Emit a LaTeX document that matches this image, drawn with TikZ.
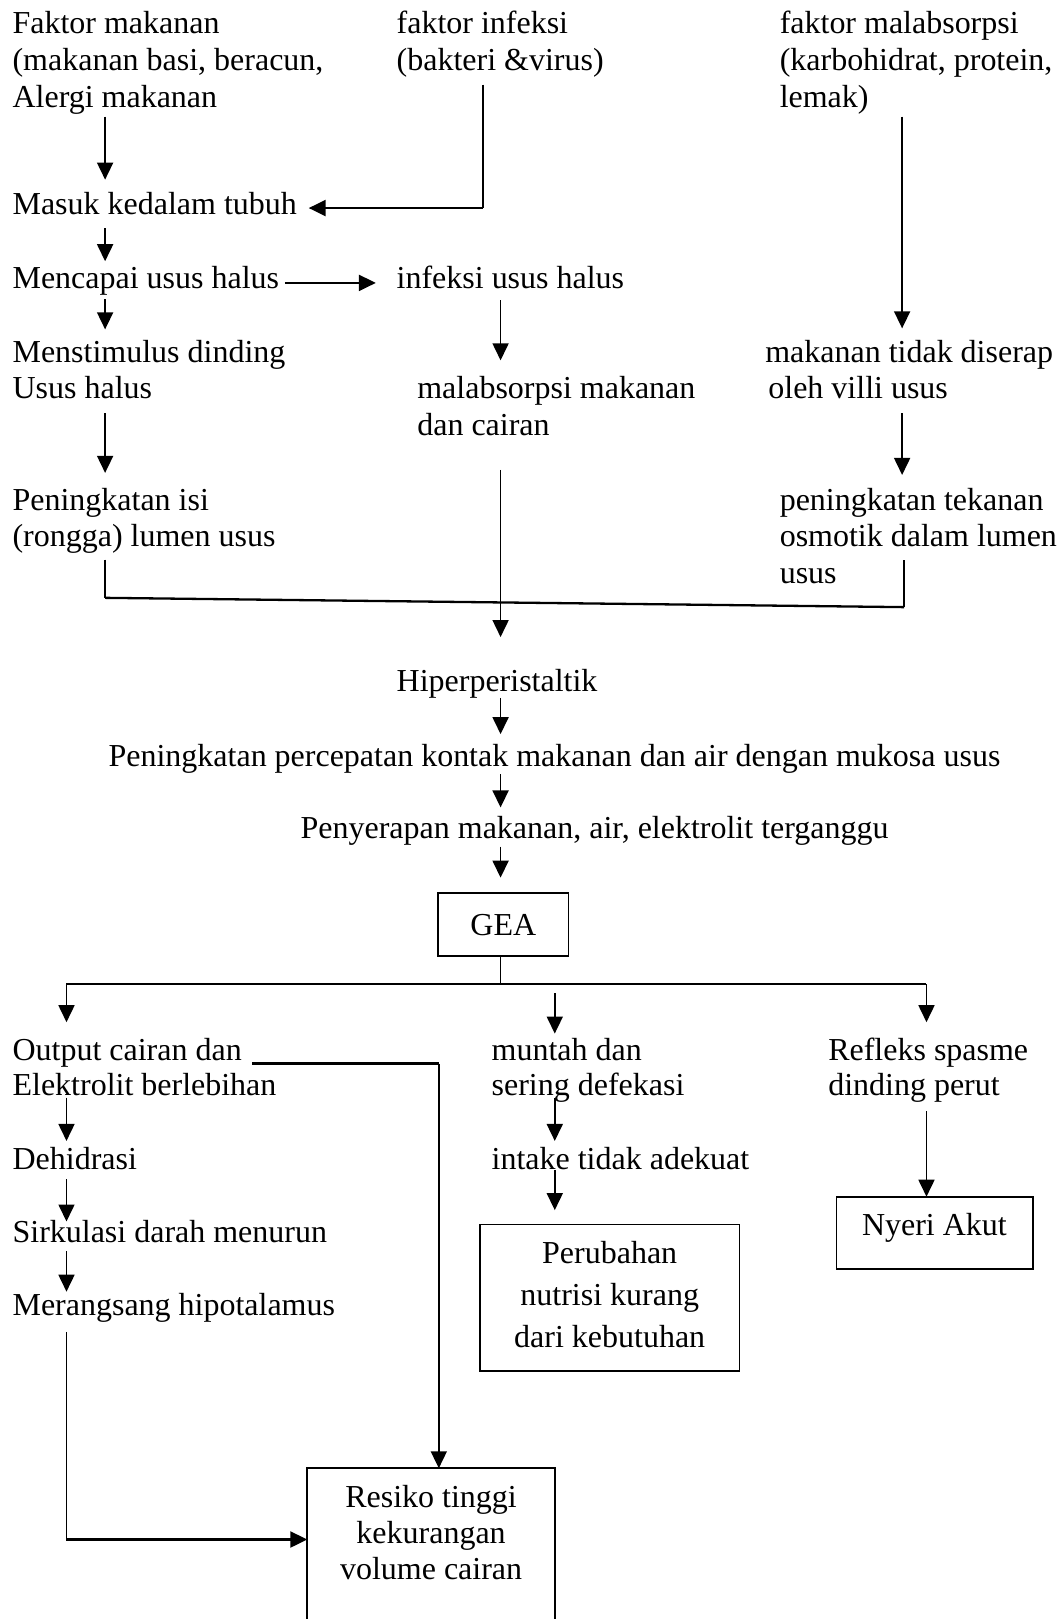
\documentclass[tikz,border=0pt]{standalone}
\usepackage{fontspec}
\setmainfont{Liberation Serif}
\usetikzlibrary{arrows.meta}
\newcommand{\fs}{\fontsize{32pt}{37pt}\selectfont}
\begin{document}
\begin{tikzpicture}[x=1.033pt,y=-1.033pt,
  txt/.style={anchor=base west, inner sep=0pt, font=\fs},
  ctxt/.style={anchor=base, inner sep=0pt, font=\fs},
  ln/.style={line width=1.7pt},
  thk/.style={line width=2.3pt},
  arr/.style={-{Triangle[length=17pt,width=16pt]}, line width=1.7pt},
  harr/.style={-{Triangle[length=17pt,width=16pt]}, line width=2.3pt},
  boxs/.style={draw, line width=1.6pt, inner sep=0pt, outer sep=0pt, rectangle}]
\clip (0,0) rectangle (1030,1568);
\fill[white] (0,0) rectangle (1030,1568);

% ---------- texts, top part ----------
\node[txt] (a1) at (12,32) {Faktor makanan};
\node[txt] (a2) at (12,68) {(makanan basi, beracun,};
\node[txt] (a3) at (12,104) {Alergi makanan};
\node[txt] (b1) at (384,32) {faktor infeksi};
\node[txt] (b2) at (384,68) {(bakteri \&virus)};
\node[txt] (c1) at (755,32) {faktor malabsorpsi};
\node[txt] (c2) at (755,68) {(karbohidrat, protein,};
\node[txt] (c3) at (755,104) {lemak)};
\node[txt] (masuk) at (12,208) {Masuk kedalam tubuh};
\node[txt] (mencapai) at (12,279) {Mencapai usus halus};
\node[txt] (infus) at (384,279) {infeksi usus halus};
\node[txt] (mst1) at (12,351) {Menstimulus dinding};
\node[txt] (mst2) at (12,386) {Usus halus};
\node[txt] (mal1) at (404,386) {malabsorpsi makanan};
\node[txt] (mal2) at (404,422) {dan cairan};
\node[txt] (mtd1) at (741,351) {makanan tidak diserap};
\node[txt] (mtd2) at (744,386) {oleh villi usus};
\node[txt] (pi1) at (12,494) {Peningkatan isi};
\node[txt] (pi2) at (12,529) {(rongga) lumen usus};
\node[txt] (pt1) at (755,494) {peningkatan tekanan};
\node[txt] (pt2) at (755,529) {osmotik dalam lumen};
\node[txt] (pt3) at (755,565) {usus};
\node[txt] (hiper) at (384,670) {Hiperperistaltik};
\node[txt] (pkm) at (105,742) {Peningkatan percepatan kontak makanan dan air dengan mukosa usus};
\node[txt] (peny) at (291,812) {Penyerapan makanan, air, elektrolit terganggu};

% ---------- boxes ----------
\node[boxs, minimum width=130.3pt, minimum height=63pt, font=\fs] (gea) at (487.45,895.5) {GEA};
\node[boxs, minimum width=259.3pt, minimum height=146.7pt] (nutrisi) at (590.5,1257) {};
\node[boxs, minimum width=196.8pt, minimum height=72.3pt] (nyeri) at (905.25,1194) {};
\node[boxs, minimum width=247.6pt, minimum height=206.6pt] (resiko) at (417.45,1522) {};

% ---------- texts, bottom part ----------
\node[txt] (out1) at (12,1027) {Output cairan dan};
\node[txt] (out2) at (12,1061) {Elektrolit berlebihan};
\node[txt] (dehi) at (12,1133) {Dehidrasi};
\node[txt] (sirk) at (12,1203) {Sirkulasi darah menurun};
\node[txt] (mera) at (12,1274) {Merangsang hipotalamus};
\node[txt] (mun1) at (476,1027) {muntah dan};
\node[txt] (mun2) at (476,1061) {sering defekasi};
\node[txt] (intk) at (476,1133) {intake tidak adekuat};
\node[txt] (ref1) at (802,1027) {Refleks spasme};
\node[txt] (ref2) at (802,1061) {dinding perut};
\node[ctxt] (nu1) at (590.5,1223.4) {Perubahan};
\node[ctxt] (nu2) at (590.5,1264.5) {nutrisi kurang};
\node[ctxt] (nu3) at (590.5,1305.5) {dari kebutuhan};
\node[ctxt] (ny1) at (905,1197) {Nyeri Akut};
\node[ctxt] (re1) at (417.5,1460) {Resiko tinggi};
\node[ctxt] (re2) at (417.5,1495) {kekurangan};
\node[ctxt] (re3) at (417.5,1530) {volume cairan};

% ---------- connector points ----------
\coordinate (p1) at (101.8,113);  \coordinate (p2) at (101.8,174);
\coordinate (q1) at (467.7,82);   \coordinate (q2) at (467.7,201.5); \coordinate (q3) at (299,201.5);
\coordinate (p3) at (101.8,221);  \coordinate (p4) at (101.8,253);
\coordinate (h1) at (276,274);    \coordinate (h2) at (364,274);
\coordinate (p5) at (101.8,290);  \coordinate (p6) at (101.8,319);
\coordinate (m1) at (484.8,291);  \coordinate (m2) at (484.8,349);
\coordinate (r1) at (873.7,113);  \coordinate (r2) at (873.7,318);
\coordinate (p7) at (101.8,400);  \coordinate (p8) at (101.8,458);
\coordinate (r3) at (873.7,400);  \coordinate (r4) at (873.7,460);
\coordinate (m3) at (484.8,455);  \coordinate (m4) at (484.8,617);
\coordinate (j1) at (101.8,542);  \coordinate (j2) at (101.8,579);
\coordinate (j3) at (875.7,588);  \coordinate (j4) at (875.7,542);
\coordinate (m5) at (484.8,676);  \coordinate (m6) at (484.8,711);
\coordinate (m7) at (484.8,750);  \coordinate (m8) at (484.8,782);
\coordinate (m9) at (484.8,820);  \coordinate (m10) at (484.8,850);
\coordinate (g1) at (484.8,926);  \coordinate (g2) at (484.8,953);
\coordinate (bl) at (64.4,953);   \coordinate (br) at (897.3,953);
\coordinate (bl2) at (64.4,990);  \coordinate (br2) at (897.3,990);
\coordinate (mid1) at (537.3,962); \coordinate (mid2) at (537.3,1001);
\coordinate (o1) at (244.4,1030); \coordinate (o2) at (425,1030);
\coordinate (d1) at (64.4,1063);  \coordinate (d2) at (64.4,1105);
\coordinate (d3) at (64.4,1142);  \coordinate (d4) at (64.4,1183);
\coordinate (d5) at (64.4,1212);  \coordinate (d6) at (64.4,1251);
\coordinate (k1) at (64.4,1290);  \coordinate (k2) at (64.4,1491);
\coordinate (n1) at (537.3,1063); \coordinate (n2) at (537.3,1105);
\coordinate (n3) at (537.3,1133); \coordinate (n4) at (537.3,1172);
\coordinate (s1) at (897.3,1076);

% ---------- connectors ----------
\draw[arr] (p1) -- (p2);
\draw[ln] (q1) -- (q2);
\draw[harr] (q2) -- (q3);
\draw[arr] (p3) -- (p4);
\draw[harr] (h1) -- (h2);
\draw[arr] (p5) -- (p6);
\draw[arr] (m1) -- (m2);
\draw[arr] (r1) -- (r2);
\draw[arr] (p7) -- (p8);
\draw[arr] (r3) -- (r4);
\draw[arr] (m3) -- (m4);
\draw[ln] (j1) -- (j2);
\draw[thk] (j2) -- (j3);
\draw[ln] (j3) -- (j4);
\draw[arr] (m5) -- (m6);
\draw[arr] (m7) -- (m8);
\draw[arr] (m9) -- (m10);
\draw[ln] (g1) -- (g2);
\draw[thk] (bl) -- (br);
\draw[arr] (bl) -- (bl2);
\draw[arr] (br) -- (br2);
\draw[arr] (mid1) -- (mid2);
\draw[thk] (o1) -- (o2);
\draw[arr] (o2) -- (o2 |- resiko.north);
\draw[arr] (d1) -- (d2);
\draw[arr] (d3) -- (d4);
\draw[arr] (d5) -- (d6);
\draw[ln] (k1) -- (k2);
\draw[harr] (k2) -- (k2 -| resiko.west);
\draw[arr] (n1) -- (n2);
\draw[arr] (n3) -- (n4);
\draw[arr] (s1) -- (s1 |- nyeri.north);
\end{tikzpicture}
\end{document}
